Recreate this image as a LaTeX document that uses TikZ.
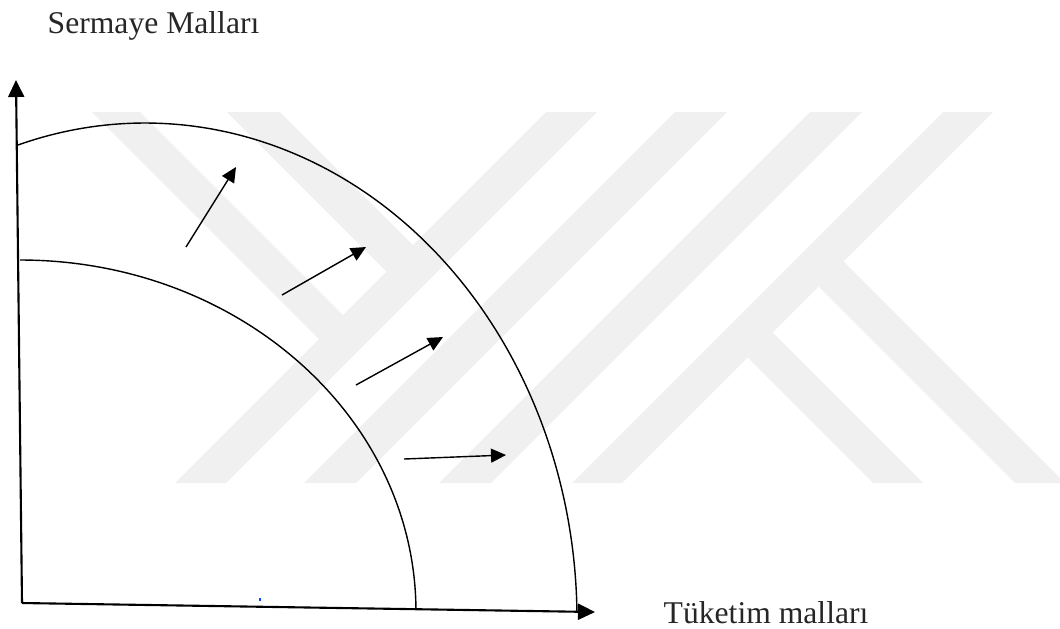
\documentclass[tikz,border=0pt]{standalone}
\usepackage{fontspec}
\setmainfont{Liberation Serif}
\usetikzlibrary{arrows.meta}
\definecolor{wmgray}{RGB}{240,240,240}
\tikzset{shiftarrow/.style={-{Triangle[length=0.15cm,width=0.14cm]},thin}}
\begin{document}
\begin{tikzpicture}[>={Triangle[length=0.17cm,width=0.16cm]},font=\fontsize{9}{11}\selectfont]
\useasboundingbox (0,0) rectangle (10.6,6.28);

%--------------------------------- watermark
\fill[wmgray] (1.75,1.45) -- (2.26,1.45) -- (5.97,5.16) -- (5.46,5.16) -- cycle;
\fill[wmgray] (3.04,1.45) -- (3.56,1.45) -- (7.27,5.16) -- (6.75,5.16) -- cycle;
\fill[wmgray] (4.39,1.45) -- (4.91,1.45) -- (8.62,5.16) -- (8.10,5.16) -- cycle;
\fill[wmgray] (5.72,1.45) -- (6.22,1.45) -- (9.93,5.16) -- (9.43,5.16) -- cycle;
\fill[wmgray] (0.92,5.16) -- (1.40,5.16) -- (3.48,3.08) -- (3.24,2.84) -- cycle;
\fill[wmgray] (2.27,5.16) -- (2.80,5.16) -- (4.18,3.78) -- (3.915,3.515) -- cycle;
\fill[wmgray] (7.425,2.755) -- (7.675,3.005) -- (9.23,1.45) -- (8.73,1.45) -- cycle;
\fill[wmgray] (8.135,3.465) -- (8.385,3.715) -- (10.6,1.50) -- (10.6,1.45) -- (10.15,1.45) -- cycle;

%--------------------------------- axes
\draw[semithick,->] (0.22,0.25) -- (0.16,5.48);
\draw[semithick,->] (0.22,0.25) -- (5.95,0.16);
\node[anchor=base west,inner sep=0,text=black!85] (sermaye) at (0.47,5.95) {Sermaye Malları};
\node[anchor=base west,inner sep=0,text=black!85] (tuketim) at (6.63,0.05) {Tüketim malları};

%--------------------------------- frontiers
\draw (0.20,0.16) ++(90:3.96 and 3.52) arc[start angle=90,end angle=0.46,x radius=3.96,y radius=3.52];
\draw (1.45,0.08) ++(107.1:4.32 and 4.97) arc[start angle=107.1,end angle=1,x radius=4.32,y radius=4.97];

%--------------------------------- shift
\draw[shiftarrow] (1.86,3.81) -- (2.36,4.61);
\draw[shiftarrow] (2.82,3.33) -- (3.66,3.81);
\draw[shiftarrow] (3.56,2.43) -- (4.43,2.91);
\draw[shiftarrow] (4.04,1.69) -- (5.06,1.73);

\fill[blue!70!cyan] (2.59,0.27) rectangle (2.61,0.30);
\end{tikzpicture}
\end{document}
